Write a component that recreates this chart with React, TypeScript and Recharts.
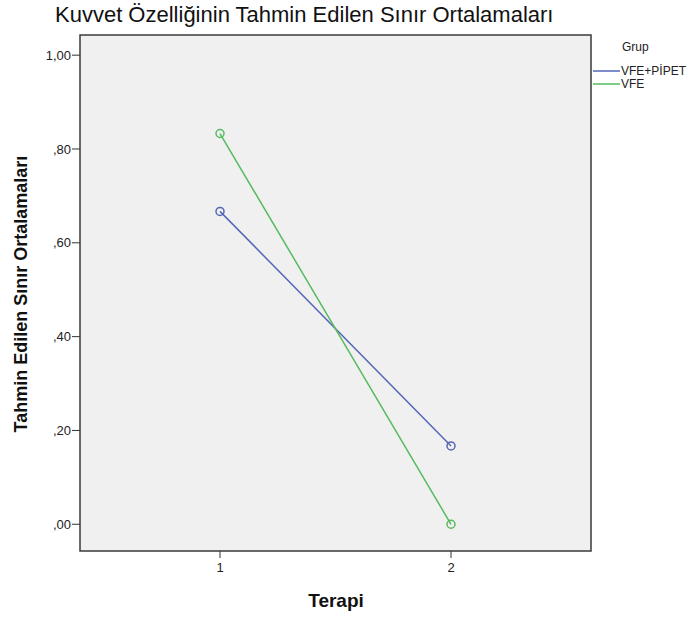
import React from 'react';
import { LineChart, Line, XAxis, YAxis, CartesianGrid } from 'recharts';

const terapi = ['1', '2'];
const vfePipet = [0.667, 0.167];
const vfe = [0.833, 0.0];
const yTicks = [0, 0.2, 0.4, 0.6, 0.8, 1.0];

const data = terapi.map((t, i) => ({ terapi: t, vfePipet: vfePipet[i], vfe: vfe[i] }));

const BLUE = '#5566b8';
const GREEN = '#55bb5e';
const FONT = '"Liberation Sans", Arial, sans-serif';

// plot box (matches chart margins below)
const W = 687;
const H = 617;
const M = { top: 35, right: 96, bottom: 0, left: 0 };
const Y_AXIS_W = 80;
const X_AXIS_H = 66;

// SPSS style: ,80 and 1,00
const fmt = (v: number) => {
  const s = v.toFixed(2).replace('.', ',');
  return s.startsWith('0') ? s.slice(1) : s;
};

export default function App() {
  const px = M.left + Y_AXIS_W;
  const py = M.top;
  const pw = W - M.right - px;
  const ph = H - M.bottom - X_AXIS_H - py;
  return (
    <div style={{ position: 'absolute', left: 0, top: 0, width: W, height: H, background: '#fff' }}>
      <LineChart width={W} height={H} data={data} margin={M}>
        <CartesianGrid horizontal={false} vertical={false} fill="#f0f0f0" />
        <XAxis
          dataKey="terapi"
          height={X_AXIS_H}
          padding={{ left: 140, right: 140 }}
          axisLine={false}
          tickLine={{ stroke: '#333' }}
          tickSize={7}
          tickMargin={5}
          fontSize={13}
          fontFamily={FONT}
          tick={{ fill: '#222', fontSize: 13, fontFamily: FONT }}
        />
        <YAxis
          width={Y_AXIS_W}
          domain={[-0.057, 1.043]}
          allowDataOverflow
          ticks={yTicks}
          tickFormatter={fmt}
          axisLine={false}
          tickLine={{ stroke: '#333' }}
          tickSize={8}
          tickMargin={1}
          fontSize={13}
          fontFamily={FONT}
          tick={{ fill: '#222', fontSize: 13, fontFamily: FONT }}
        />
        <Line dataKey="vfePipet" stroke={BLUE} strokeWidth={1.5} dot={{ r: 4, fill: 'none', stroke: BLUE, strokeWidth: 1.5 }} isAnimationActive={false} />
        <Line dataKey="vfe" stroke={GREEN} strokeWidth={1.5} dot={{ r: 4, fill: 'none', stroke: GREEN, strokeWidth: 1.5 }} isAnimationActive={false} />
      </LineChart>
      <svg width={W} height={H} style={{ position: 'absolute', left: 0, top: 0, pointerEvents: 'none' }}>
        <rect x={px} y={py} width={pw} height={ph} fill="none" stroke="#3a3a3a" strokeWidth={1.5} />
        <text x={55} y={22} fontFamily={FONT} fontSize={22} fill="#111">Kuvvet Özelliğinin Tahmin Edilen Sınır Ortalamaları</text>
        <text x={27} y={294} transform="rotate(-90 27 294)" textAnchor="middle" fontFamily={FONT} fontSize={18} fontWeight="bold" fill="#111">Tahmin Edilen Sınır Ortalamaları</text>
        <text x={336} y={607} textAnchor="middle" fontFamily={FONT} fontSize={19} fontWeight="bold" fill="#111">Terapi</text>
        <text x={622} y={51} fontFamily={FONT} fontSize={12} fill="#222">Grup</text>
        <line x1={593} x2={620} y1={71} y2={71} stroke={BLUE} strokeWidth={1.5} />
        <text x={621} y={75} fontFamily={FONT} fontSize={12} fill="#222">VFE+PİPET</text>
        <line x1={593} x2={620} y1={84} y2={84} stroke={GREEN} strokeWidth={1.5} />
        <text x={621} y={88} fontFamily={FONT} fontSize={12} fill="#222">VFE</text>
      </svg>
    </div>
  );
}
